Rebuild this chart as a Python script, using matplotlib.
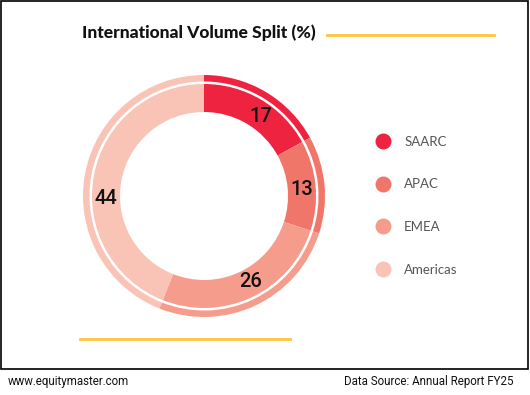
import matplotlib
matplotlib.use("Agg")
import matplotlib.pyplot as plt
from matplotlib.lines import Line2D
from matplotlib.patches import Rectangle
import numpy as np

categories = ["SAARC", "APAC", "EMEA", "Americas"]
values = [17, 13, 26, 44]
colors = ["#EE2340", "#F1766A", "#F59C8C", "#F9C3B6"]
label_nudge_deg = [-5, -1.5, 3.5, 12.5]
title = "International Volume Split (%)"
footer_left = "www.equitymaster.com"
footer_right = "Data Source: Annual Report FY25"

W, H = 530, 395
fig = plt.figure(figsize=(W / 100, H / 100), dpi=100)
fig.patch.set_facecolor("white")

# frame
fig.add_artist(Rectangle((1 / W, 1 - 369 / H), 527 / W, 368 / H, transform=fig.transFigure,
                         fill=False, edgecolor="black", lw=1.2))

# donut axes: center (204,196) px, extent 121 px
cx, cy, ext = 204, 196, 121
ax = fig.add_axes([(cx - ext) / W, (H - cy - ext) / H, 2 * ext / W, 2 * ext / H])
ax.pie(values, radius=112, startangle=90, counterclock=False, colors=colors,
       wedgeprops=dict(width=28, edgecolor="none", linewidth=0))
ax.pie(values, radius=121, startangle=90, counterclock=False, colors=colors,
       wedgeprops=dict(width=6.5, edgecolor="none", linewidth=0))
ax.set_xlim(-ext, ext)
ax.set_ylim(-ext, ext)
ax.set_aspect("equal")
ax.axis("off")

cum = 0
for v, nd in zip(values, label_nudge_deg):
    mid = 90 - (cum + v / 2) * 3.6 + nd
    r = 98
    ax.text(r * np.cos(np.radians(mid)), r * np.sin(np.radians(mid)), str(v),
            ha="center", va="center", fontsize=14.5, color="#111111", family="Roboto",
            fontweight="medium")
    cum += v

# title
fig.text(82 / W, 1 - 33 / H, title, ha="left", va="center", fontsize=12.6,
         fontweight="black", family="Lato", color="#111111")
fig.add_artist(Line2D([327 / W, 494 / W], [1 - 35 / H, 1 - 35 / H], transform=fig.transFigure,
                      color="#FFC43D", lw=2))
fig.add_artist(Line2D([80 / W, 290 / W], [1 - 339 / H, 1 - 339 / H], transform=fig.transFigure,
                      color="#FFC43D", lw=2))

# legend
handles = [Line2D([], [], marker="o", linestyle="none", markersize=11.5, markerfacecolor=c,
                  markeredgecolor="none") for c in colors]
leg = fig.legend(handles, categories, loc="upper left", bbox_to_anchor=(358 / W, 1 - 124 / H),
                 frameon=False, labelspacing=2.32, handletextpad=0.6,
                 prop=dict(family="Lato", size=9.5))
for t in leg.get_texts():
    t.set_color("#555555")

fig.text(8 / W, 1 - 382 / H, footer_left, ha="left", va="center", fontsize=8.3, family="Roboto",
         color="#111111")
fig.text(513 / W, 1 - 382 / H, footer_right, ha="right", va="center", fontsize=8.3, family="Roboto",
         color="#111111")

fig.savefig("out.png", dpi=100)
